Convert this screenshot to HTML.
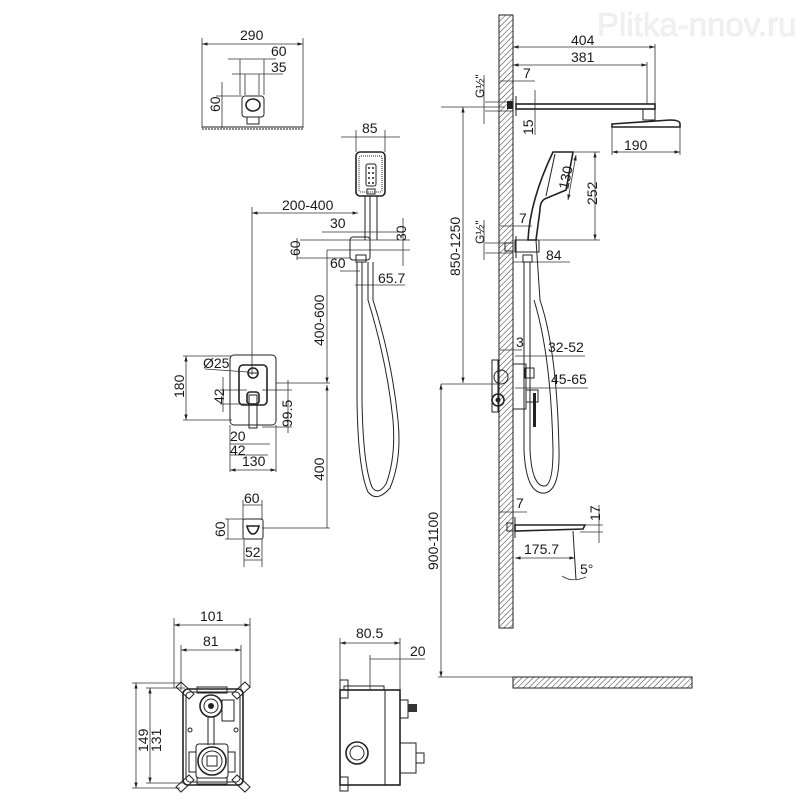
<!DOCTYPE html>
<html><head><meta charset="utf-8"><style>
html,body{margin:0;padding:0;background:#fff;}
svg{display:block;}
text{font-family:"Liberation Sans","DejaVu Sans",sans-serif;font-size:14px;fill:#1a1a1a;}
.l{stroke:#222;stroke-width:1;fill:none;}
.t{stroke:#222;stroke-width:1.6;fill:none;}
.d{stroke:#333;stroke-width:0.8;fill:none;}
</style></head><body>
<svg width="800" height="800" viewBox="0 0 800 800" xmlns="http://www.w3.org/2000/svg">
<defs>
<pattern id="h" width="4" height="4" patternUnits="userSpaceOnUse" patternTransform="rotate(45)">
<rect width="4" height="4" fill="#fff"/><line x1="0" y1="0" x2="0" y2="4" stroke="#333" stroke-width="1"/>
</pattern>
<marker id="a" viewBox="0 0 10 10" refX="10" refY="5" markerWidth="7" markerHeight="7" orient="auto-start-reverse"><path d="M0,2 L10,5 L0,8 z" fill="#222"/></marker>
</defs>

<text x="597" y="36" style="font-size:33px;fill:#f1f1f1;stroke:#e8e8e8;stroke-width:0.5">Plitka-nnov.ru</text>

<!-- top-left head -->
<g>
<line class="d" x1="202" y1="38" x2="202" y2="128"/><line class="d" x1="303" y1="38" x2="303" y2="128"/>
<line class="d" x1="202" y1="44" x2="303" y2="44" marker-start="url(#a)" marker-end="url(#a)"/>
<text x="240" y="40">290</text>
<line class="d" x1="228" y1="59" x2="276" y2="59"/><line class="d" x1="240" y1="59" x2="240" y2="95"/><line class="d" x1="264" y1="59" x2="264" y2="95"/>
<text x="271" y="56">60</text>
<line class="d" x1="232" y1="74" x2="283" y2="74"/><line class="d" x1="245" y1="74" x2="245" y2="95"/><line class="d" x1="259" y1="74" x2="259" y2="95"/>
<text x="271" y="72">35</text>
<line class="d" x1="222" y1="82" x2="222" y2="128"/><line class="d" x1="216" y1="96" x2="242" y2="96"/>
<text transform="translate(220,112) rotate(-90)">60</text>
<rect class="l" x="242" y="96" width="22" height="21" rx="3"/>
<ellipse class="t" cx="253" cy="105" rx="7" ry="6"/>
<rect class="l" x="247" y="117" width="12" height="7"/>
<line class="l" x1="202" y1="127" x2="303" y2="127"/>
<line x1="202" y1="129" x2="303" y2="129" stroke="#444" stroke-width="1.2" stroke-dasharray="2 1"/>
</g>

<!-- hand shower center -->
<g>
<line class="d" x1="356" y1="130" x2="356" y2="152"/><line class="d" x1="385" y1="130" x2="385" y2="152"/>
<line class="d" x1="341" y1="137" x2="400" y2="137"/>
<text x="362" y="133">85</text>
<rect class="t" x="356" y="152" width="29" height="44" rx="4"/>
<rect class="l" x="359" y="156" width="23" height="36" rx="2" stroke-dasharray="1 1"/>
<rect class="l" x="366" y="164" width="10" height="22" rx="2"/>
<g fill="#222"><circle cx="369" cy="168" r="1"/><circle cx="373" cy="168" r="1"/><circle cx="369" cy="173" r="1"/><circle cx="373" cy="173" r="1"/><circle cx="369" cy="178" r="1"/><circle cx="373" cy="178" r="1"/><circle cx="369" cy="183" r="1"/><circle cx="373" cy="183" r="1"/></g>
<rect class="l" x="367" y="189" width="8" height="5"/>
<line class="l" x1="365" y1="196" x2="365" y2="240"/><line class="l" x1="377" y1="196" x2="377" y2="240"/><line class="l" x1="370" y1="196" x2="370" y2="240"/>
<line class="d" x1="252" y1="207" x2="252" y2="375"/>
<line class="d" x1="252" y1="213" x2="358" y2="213" marker-start="url(#a)" marker-end="url(#a)"/>
<text x="282" y="210">200-400</text>
<line class="d" x1="322" y1="232" x2="400" y2="232"/><text x="330" y="228">30</text>
<line class="d" x1="300" y1="240" x2="410" y2="240"/>
<line class="d" x1="297" y1="238" x2="297" y2="260"/>
<text transform="translate(300,256) rotate(-90)">60</text>
<line class="d" x1="403" y1="218" x2="403" y2="266"/><text x="0" y="0" transform="translate(406,241) rotate(-90)">30</text>
<line class="d" x1="327" y1="250" x2="410" y2="250"/>
<line class="d" x1="297" y1="258" x2="350" y2="258"/>
<rect class="l" x="350" y="237" width="20" height="23" rx="3"/>
<rect class="l" x="356" y="255" width="10" height="7"/>
<line class="d" x1="340" y1="271" x2="360" y2="271"/><text x="330" y="268">60</text>
<line class="d" x1="355" y1="285" x2="405" y2="285"/><text x="378" y="283">65.7</text>
<path class="l" d="M357,262 L357,400 Q358,470 368,492 Q377,503 390,488 Q402,460 398,420 Q392,360 373,300 L373,262"/>
<path class="l" d="M362,262 L362,400 Q363,465 372,487 Q378,496 386,484 Q396,458 393,420 Q387,362 368,300 L368,262"/>
</g>

<!-- 400-600 / 400 -->
<line class="d" x1="327" y1="250" x2="327" y2="383" marker-end="url(#a)"/>
<line class="d" x1="327" y1="385" x2="327" y2="528" marker-start="url(#a)"/>
<text transform="translate(324,346) rotate(-90)">400-600</text>
<text transform="translate(324,481) rotate(-90)">400</text>
<line class="d" x1="276" y1="383" x2="330" y2="383"/>
<line class="d" x1="262" y1="528" x2="330" y2="528"/>

<!-- mixer plate -->
<g>
<rect class="l" x="230" y="355" width="46" height="70" rx="4"/>
<rect class="t" x="239" y="365" width="28" height="40" rx="4"/>
<circle class="t" cx="253" cy="373" r="5"/><line class="l" x1="248" y1="373" x2="258" y2="373"/>
<rect class="t" x="247" y="392" width="12" height="12" rx="3"/>
<rect class="l" x="249" y="395" width="8" height="33"/>
<text x="203" y="368">Ø25</text><line class="d" x1="205" y1="369" x2="248" y2="372"/>
<line class="d" x1="186" y1="356" x2="186" y2="420" marker-start="url(#a)" marker-end="url(#a)"/>
<line class="d" x1="183" y1="356" x2="232" y2="356"/><line class="d" x1="183" y1="420" x2="232" y2="420"/>
<text transform="translate(184,398) rotate(-90)">180</text>
<line class="d" x1="223" y1="377" x2="223" y2="412"/><line class="d" x1="220" y1="390" x2="247" y2="390"/><line class="d" x1="220" y1="404" x2="247" y2="404"/>
<text transform="translate(224,404) rotate(-90)">42</text>
<line class="d" x1="288" y1="380" x2="288" y2="433"/><line class="d" x1="262" y1="390" x2="292" y2="390"/><line class="d" x1="262" y1="427" x2="292" y2="427"/>
<text transform="translate(292,427) rotate(-90)">99.5</text>
<line class="d" x1="230" y1="444" x2="270" y2="444"/><text x="230" y="441">20</text>
<line class="d" x1="230" y1="455" x2="268" y2="455"/><text x="230" y="455">42</text>
<line class="d" x1="230" y1="470" x2="276" y2="470" marker-start="url(#a)" marker-end="url(#a)"/>
<line class="d" x1="230" y1="425" x2="230" y2="472"/><line class="d" x1="276" y1="425" x2="276" y2="472"/>
<text x="242" y="466">130</text>
</g>

<!-- small part -->
<g>
<line class="d" x1="243" y1="505" x2="262" y2="505"/><text x="244" y="503">60</text>
<line class="d" x1="243" y1="500" x2="243" y2="520"/><line class="d" x1="262" y1="500" x2="262" y2="520"/>
<rect class="l" x="243" y="519" width="20" height="20" rx="2"/>
<path class="t" d="M247,526 L259,526 Q257,534 253,534 Q249,534 247,526z"/>
<line class="d" x1="228" y1="519" x2="228" y2="539"/><line class="d" x1="225" y1="519" x2="243" y2="519"/><line class="d" x1="225" y1="539" x2="243" y2="539"/>
<text transform="translate(225,537) rotate(-90)">60</text>
<line class="d" x1="244" y1="539" x2="244" y2="567"/><line class="d" x1="262" y1="539" x2="262" y2="567"/>
<line class="d" x1="244" y1="560" x2="262" y2="560"/><text x="245" y="557">52</text>
</g>

<!-- wall & floor -->
<rect x="499" y="15" width="14" height="613" fill="url(#h)" stroke="#222" stroke-width="1"/>
<rect x="513" y="677" width="179" height="11" fill="url(#h)" stroke="#222" stroke-width="1"/>

<!-- top right arm -->
<g>
<line class="d" x1="513" y1="47" x2="655" y2="47" marker-start="url(#a)" marker-end="url(#a)"/>
<line class="d" x1="513" y1="65" x2="647" y2="65" marker-start="url(#a)" marker-end="url(#a)"/>
<line class="d" x1="655" y1="44" x2="655" y2="104"/><line class="d" x1="647" y1="62" x2="647" y2="104"/>
<text x="571" y="45">404</text><text x="571" y="62">381</text>
<line class="d" x1="500" y1="81" x2="535" y2="81"/><text x="523" y="78">7</text>
<line class="d" x1="485" y1="102" x2="513" y2="102"/><line class="d" x1="485" y1="111" x2="513" y2="111"/>
<line class="d" x1="484" y1="75" x2="484" y2="124"/>
<text transform="translate(484,98) rotate(-90)" style="font-size:12px">G½"</text>
<rect x="507" y="101" width="6" height="8" fill="#222"/>
<line class="l" x1="516" y1="96" x2="516" y2="116"/>
<rect class="t" x="516" y="104" width="139" height="5"/>
<line class="d" x1="535" y1="90" x2="535" y2="135"/>
<text transform="translate(533,135) rotate(-90)">15</text>
<rect class="l" x="643" y="109" width="12" height="11"/>
<path class="t" d="M612,124 L670,120 Q680,120 680,124 L680,127 L612,127z"/>
<line class="d" x1="612" y1="127" x2="612" y2="155"/><line class="d" x1="680" y1="127" x2="680" y2="155"/>
<line class="d" x1="612" y1="152" x2="680" y2="152" marker-start="url(#a)" marker-end="url(#a)"/>
<text x="624" y="150">190</text>
<line class="d" x1="441" y1="107" x2="505" y2="107"/>
<line class="d" x1="463" y1="107" x2="463" y2="383" marker-start="url(#a)" marker-end="url(#a)"/>
<text transform="translate(460,276) rotate(-90)">850-1250</text>
</g>

<!-- right hand shower -->
<g>
<path class="t" d="M553,152 L573,152 L566,190 L547,198 Q540,200 540,210 L536,240 L528,240 Q530,200 553,152z"/>
<line class="l" x1="555" y1="154" x2="546" y2="196"/>
<line class="d" x1="573" y1="152" x2="600" y2="152"/><line class="d" x1="540" y1="240" x2="600" y2="240"/>
<line class="d" x1="595" y1="152" x2="595" y2="240" marker-start="url(#a)" marker-end="url(#a)"/>
<text transform="translate(597,205) rotate(-90)">252</text>
<line class="d" x1="576" y1="155" x2="568" y2="200" marker-start="url(#a)" marker-end="url(#a)"/>
<text transform="translate(568,190) rotate(-78)">130</text>
<line class="d" x1="500" y1="226" x2="532" y2="226"/><text x="519" y="223">7</text>
<line class="d" x1="484" y1="220" x2="484" y2="260"/>
<line class="d" x1="485" y1="243" x2="513" y2="243"/><line class="d" x1="485" y1="253" x2="513" y2="253"/>
<text transform="translate(484,244) rotate(-90)" style="font-size:12px">G½"</text>
<rect class="l" x="505" y="243" width="8" height="8"/>
<rect class="l" x="515" y="240" width="24" height="12"/>
<line class="l" x1="516" y1="236" x2="516" y2="258"/>
<line class="d" x1="513" y1="262" x2="570" y2="262"/><text x="546" y="260">84</text>
<rect class="l" x="523" y="255" width="9" height="7"/>
<path class="l" d="M524,262 L524,450 Q526,495 545,493 Q560,490 559,450 Q557,350 540,300 L536,240"/>
<path class="l" d="M530,262 L530,450 Q532,487 545,486 Q553,484 553,450 Q551,355 534,300"/>
</g>

<!-- wall mixer -->
<g>
<line class="d" x1="500" y1="350" x2="522" y2="350"/><text x="516" y="347">3</text>
<line class="d" x1="515" y1="356" x2="585" y2="356"/><text x="548" y="352">32-52</text>
<line class="d" x1="515" y1="388" x2="588" y2="388"/><text x="551" y="384">45-65</text>
<rect class="l" x="492" y="360" width="6" height="52"/>
<rect class="l" x="513" y="364" width="13" height="45"/>
<circle class="l" cx="501" cy="377" r="7"/>
<circle class="t" cx="498" cy="400" r="6"/><circle cx="498" cy="400" r="2.5" fill="#222"/>
<rect class="l" x="525" y="368" width="9" height="10"/>
<rect class="l" x="526" y="390" width="12" height="12"/>
<rect x="533" y="393" width="3" height="34" fill="#222"/>
<line class="d" x1="441" y1="384" x2="500" y2="384"/>
<line class="d" x1="441" y1="384" x2="441" y2="677" marker-start="url(#a)" marker-end="url(#a)"/>
<line class="d" x1="438" y1="677" x2="513" y2="677"/>
<text transform="translate(438,570) rotate(-90)">900-1100</text>
</g>

<!-- spout -->
<g>
<line class="d" x1="500" y1="512" x2="527" y2="512"/><text x="516" y="508">7</text>
<rect class="l" x="507" y="523" width="6" height="8"/>
<line class="l" x1="515" y1="517" x2="515" y2="538"/>
<path class="t" d="M515,525 L585,525 L583,529 L515,531z"/>
<line class="l" x1="573" y1="531" x2="576" y2="580"/>
<line class="d" x1="580" y1="525" x2="603" y2="525"/><line class="d" x1="580" y1="532" x2="603" y2="532"/>
<line class="d" x1="599" y1="505" x2="599" y2="543"/>
<text transform="translate(600,521) rotate(-90)">17</text>
<line class="d" x1="515" y1="558" x2="575" y2="558" marker-start="url(#a)" marker-end="url(#a)"/>
<text x="524" y="554">175.7</text>
<path class="d" d="M562,576 Q572,583 586,577"/>
<text x="580" y="574">5°</text>
</g>

<!-- valve box front -->
<g>
<line class="d" x1="174" y1="618" x2="174" y2="688"/><line class="d" x1="250" y1="618" x2="250" y2="688"/>
<line class="d" x1="174" y1="625" x2="250" y2="625" marker-start="url(#a)" marker-end="url(#a)"/>
<text x="200" y="621">101</text>
<line class="d" x1="181" y1="645" x2="181" y2="690"/><line class="d" x1="241" y1="645" x2="241" y2="690"/>
<line class="d" x1="181" y1="650" x2="241" y2="650" marker-start="url(#a)" marker-end="url(#a)"/>
<text x="203" y="646">81</text>
<line class="d" x1="132" y1="683" x2="180" y2="683"/><line class="d" x1="132" y1="788" x2="180" y2="788"/>
<line class="d" x1="136" y1="683" x2="136" y2="788" marker-start="url(#a)" marker-end="url(#a)"/>
<text transform="translate(148,752) rotate(-90)">149</text>
<line class="d" x1="146" y1="688" x2="185" y2="688"/><line class="d" x1="146" y1="783" x2="185" y2="783"/>
<line class="d" x1="150" y1="688" x2="150" y2="783" marker-start="url(#a)" marker-end="url(#a)"/>
<text transform="translate(161,752) rotate(-90)">131</text>
<rect class="t" x="183" y="689" width="60" height="96" rx="5"/>
<rect class="l" x="186" y="692" width="54" height="90" rx="4"/>
<path class="l" d="M176,687 L181,682 L194,694 L189,699z" stroke-linejoin="round"/><path class="l" d="M250,687 L245,682 L232,694 L237,699z"/>
<path class="l" d="M176,787 L181,792 L194,780 L189,775z"/><path class="l" d="M250,787 L245,792 L232,780 L237,775z"/>
<rect class="l" x="197" y="687" width="30" height="6"/>
<circle class="t" cx="211" cy="706" r="11"/><circle class="l" cx="211" cy="706" r="7"/><circle cx="211" cy="706" r="3" fill="#222"/>
<rect class="l" x="222" y="700" width="12" height="21"/>
<line class="l" x1="208" y1="717" x2="208" y2="745"/><line class="l" x1="214" y1="717" x2="214" y2="745"/>
<rect class="l" x="196" y="744" width="32" height="34" rx="3"/>
<circle class="t" cx="212" cy="761" r="14"/><circle class="l" cx="212" cy="761" r="10"/><rect class="l" x="207" y="756" width="10" height="10"/>
<rect class="l" x="189" y="752" width="7" height="20"/><rect class="l" x="228" y="752" width="7" height="20"/>
<circle class="l" cx="190" cy="730" r="2"/><circle class="l" cx="236" cy="730" r="2"/>
<rect class="l" x="197" y="778" width="30" height="6"/>
</g>

<!-- valve box side -->
<g>
<line class="d" x1="340" y1="638" x2="340" y2="690"/><line class="d" x1="400" y1="638" x2="400" y2="690"/>
<line class="d" x1="340" y1="643" x2="400" y2="643" marker-start="url(#a)" marker-end="url(#a)"/>
<text x="356" y="638">80.5</text>
<line class="d" x1="370" y1="655" x2="370" y2="690"/>
<line class="d" x1="370" y1="659" x2="425" y2="659"/>
<text x="410" y="656">20</text>
<rect class="t" x="340" y="690" width="60" height="95"/>
<rect class="l" x="344" y="686" width="40" height="4"/>
<rect class="l" x="340" y="680" width="8" height="18"/>
<rect class="l" x="340" y="777" width="8" height="14"/>
<rect class="l" x="385" y="690" width="15" height="95"/>
<rect class="l" x="400" y="700" width="8" height="18"/>
<rect x="408" y="704" width="9" height="8" fill="#333"/>
<rect class="l" x="400" y="743" width="16" height="30"/>
<rect class="l" x="416" y="753" width="8" height="10"/>
<circle class="t" cx="357" cy="753" r="11"/><circle class="l" cx="357" cy="753" r="7"/>
</g>
</svg>
</body></html>
